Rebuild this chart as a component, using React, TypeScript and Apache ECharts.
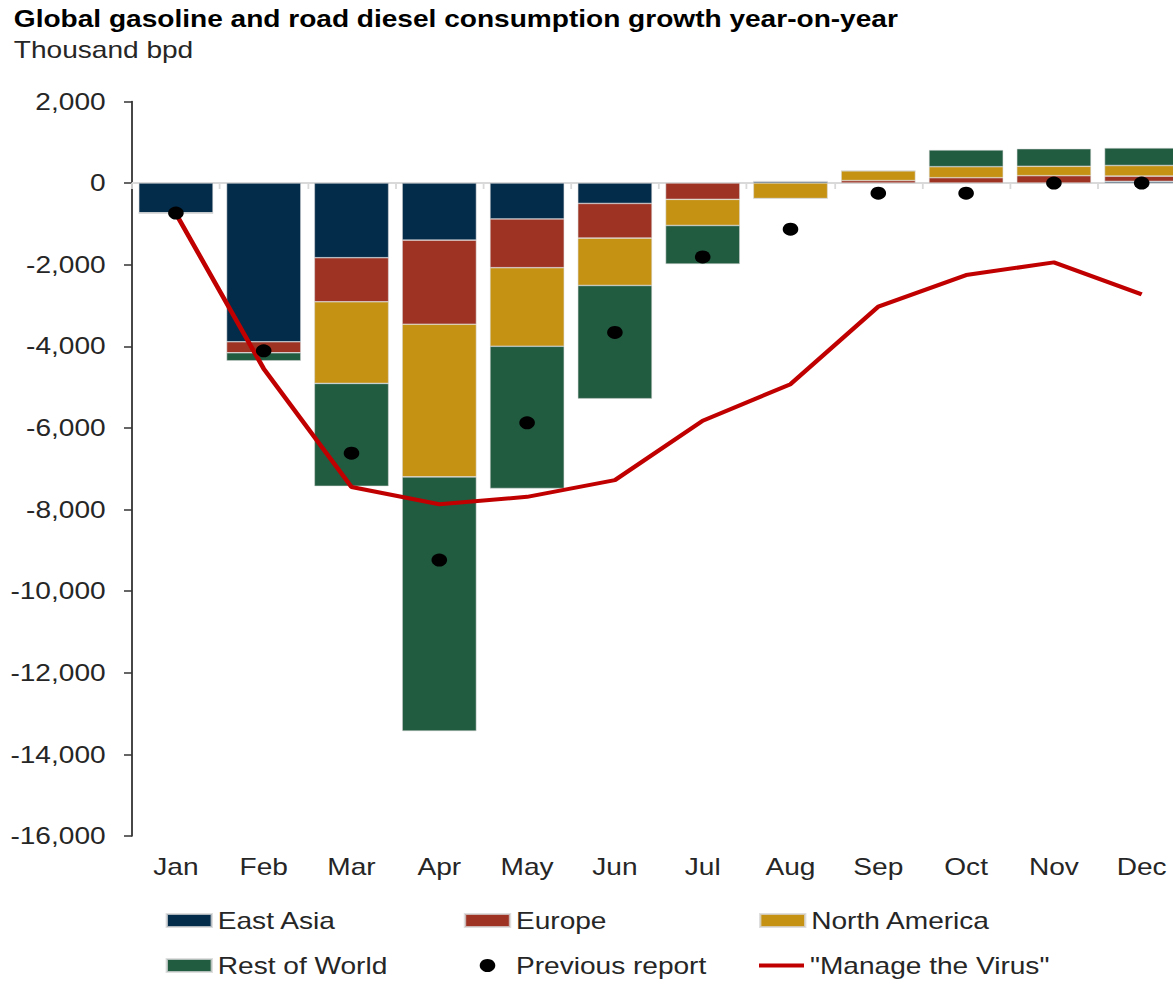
import React, { useEffect, useRef } from "react";
import * as echarts from "echarts";

const months = ["Jan", "Feb", "Mar", "Apr", "May", "Jun", "Jul", "Aug", "Sep", "Oct", "Nov", "Dec"];
const eastAsia = [-735, -3890, -1830, -1400, -880, -500, 0, 40, 0, 0, 0, 40];
const europe = [0, -270, -1080, -2060, -1195, -850, -400, 0, 60, 130, 180, 130];
const northAmerica = [0, 0, -2000, -3740, -1925, -1160, -640, -380, 240, 270, 230, 260];
const restOfWorld = [0, -195, -2520, -6230, -3485, -2775, -945, 0, 0, 410, 430, 430];
const previousReport = [-735, -4110, -6620, -9240, -5875, -3660, -1810, -1130, -250, -250, 0, 0];
const manageTheVirus = [-750, -4550, -7450, -7870, -7690, -7280, -5825, -4930, -3030, -2255, -1945, -2730];
const yMin = -16000;
const yMax = 2000;
const yStep = 2000;

const FONT = "'Liberation Sans', Arial, sans-serif";
const SX = 1.2; // horizontal stretch of the reference picture
const VIEW_W = 1173;
const VIEW_H = 982;
const CHART_W = 1000;

const colors = {
  eastAsia: "#032B4A",
  europe: "#9E3223",
  northAmerica: "#C69214",
  rest: "#215B40",
  line: "#C00000",
};

export default function App() {
  const ref = useRef<HTMLDivElement>(null);

  useEffect(() => {
    if (!ref.current) return;
    const chart = echarts.init(ref.current, undefined, { renderer: "svg", width: CHART_W, height: VIEW_H });
    const fs = 23.4;
    const textColor = "#262626";
    const barBorder = { borderColor: "rgba(215,215,215,0.8)", borderWidth: 0.6 };
    const bar = (name: string, data: number[], color: string) => ({
      name,
      type: "bar",
      stack: "total",
      data,
      barWidth: 62,
      itemStyle: { color, ...barBorder },
      z: 2,
    });
    const legendBase = {
      orient: "vertical",
      top: 909,
      itemWidth: 37.5,
      itemHeight: 13,
      itemGap: 22,
      padding: 0,
      selectedMode: false,
      textStyle: { fontFamily: FONT, fontSize: fs, color: textColor },
    };

    chart.setOption({
      animation: false,
      backgroundColor: "#ffffff",
      title: [
        {
          text: "Global gasoline and road diesel consumption growth year-on-year",
          left: 11.5,
          top: 7,
          padding: 0,
          textStyle: { fontFamily: FONT, fontSize: fs, fontWeight: "bold", color: "#000000" },
        },
        {
          text: "Thousand bpd",
          left: 11.5,
          top: 38.5,
          padding: 0,
          textStyle: { fontFamily: FONT, fontSize: fs, fontWeight: "normal", color: textColor },
        },
      ],
      legend: [
        {
          ...legendBase,
          left: 138,
          data: [
            { name: "East Asia", icon: "rect" },
            { name: "Rest of World", icon: "rect" },
          ],
        },
        {
          ...legendBase,
          left: 386.5,
          data: [
            { name: "Europe", icon: "rect" },
            { name: "Previous report", icon: "circle", itemStyle: { color: "#000000", opacity: 1 } },
          ],
        },
        {
          ...legendBase,
          left: 632.5,
          data: [{ name: "North America", icon: "rect" }],
        },
        {
          ...legendBase,
          left: 632.5,
          top: 954,
          itemHeight: 4,
          data: [
            {
              name: '"Manage the Virus"',
              icon: "rect",
              itemStyle: { color: colors.line, borderWidth: 0 },
            },
          ],
        },
      ],
      grid: { left: 110, right: 12, top: 101.4, bottom: 146, containLabel: false },
      xAxis: [
        {
          type: "category",
          data: months,
          position: "bottom",
          axisLine: { show: false, onZero: false },
          axisTick: { show: false },
          axisLabel: { margin: 19, fontFamily: FONT, fontSize: fs, color: textColor, interval: 0 },
          splitLine: { show: false },
        },
        {
          type: "category",
          data: months,
          position: "bottom",
          axisLine: { show: true, onZero: true, onZeroAxisIndex: 0, lineStyle: { color: "#d9d9d9", width: 2 } },
          axisTick: { show: true, length: 6, lineStyle: { color: "#d9d9d9", width: 1.5 } },
          axisLabel: { show: false },
          splitLine: { show: false },
        },
      ],
      yAxis: {
        type: "value",
        min: yMin,
        max: yMax,
        interval: yStep,
        axisLine: { show: true, onZero: false, lineStyle: { color: "#333333", width: 1.5 } },
        axisTick: { show: true, length: 6.7, lineStyle: { color: "#333333", width: 1.5 } },
        splitLine: { show: false },
        axisLabel: {
          margin: 22,
          fontFamily: FONT,
          fontSize: fs,
          color: textColor,
          formatter: (v: number) => v.toLocaleString("en-US"),
        },
      },
      series: [
        bar("East Asia", eastAsia, colors.eastAsia),
        bar("Europe", europe, colors.europe),
        bar("North America", northAmerica, colors.northAmerica),
        bar("Rest of World", restOfWorld, colors.rest),
        {
          name: '"Manage the Virus"',
          type: "line",
          data: manageTheVirus,
          symbol: "none",
          smooth: false,
          lineStyle: { color: colors.line, width: 4 },
          itemStyle: { color: colors.line },
          z: 3,
        },
        {
          name: "Previous report",
          type: "scatter",
          data: previousReport,
          symbol: "circle",
          symbolSize: 13,
          itemStyle: { color: "#000000", opacity: 1 },
          z: 4,
        },
      ],
    });
    return () => chart.dispose();
  }, []);

  return (
    <div
      style={{
        position: "absolute",
        left: 0,
        top: 0,
        width: VIEW_W,
        height: VIEW_H,
        overflow: "hidden",
        background: "#ffffff",
      }}
    >
      <div
        ref={ref}
        style={{
          width: CHART_W,
          height: VIEW_H,
          transform: `scaleX(${SX})`,
          transformOrigin: "0 0",
        }}
      />
    </div>
  );
}
